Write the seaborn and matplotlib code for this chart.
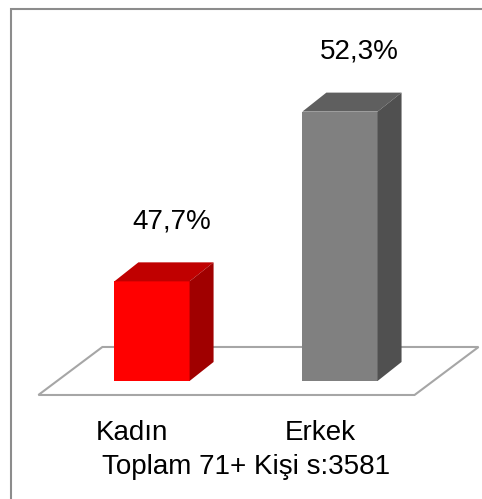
import numpy as np
import matplotlib
matplotlib.use("Agg")
import matplotlib.pyplot as plt
import seaborn as sns
from matplotlib.patches import Polygon, Rectangle
from matplotlib.transforms import ScaledTranslation

categories = ["Kadın", "Erkek"]
values = [47.7, 52.3]
value_labels = ["47,7%", "52,3%"]
front_colors = ["#FF0000", "#808080"]
top_colors = ["#C00000", "#5F5F5F"]
side_colors = ["#A00000", "#505050"]
xlabel = "Toplam 71+ Kişi s:3581"
baseline = 45

sns.set_style("white")
plt.rcParams['font.family'] = ['Liberation Sans', 'DejaVu Sans']
plt.rcParams['text.color'] = 'black'
plt.rcParams['xtick.color'] = 'black'
plt.rcParams['axes.labelcolor'] = 'black'

fig = plt.figure(figsize=(4.82, 4.99), dpi=100)
ax = fig.add_axes([0.0813, 0.2365, 0.858, 0.7395])
sns.barplot(x=categories, y=values, hue=categories, palette=front_colors,
            width=0.4, saturation=1, legend=False, ax=ax, zorder=3, linewidth=0)
ax.set_xlim(-0.6, 1.6)
ax.set_ylim(baseline, 55)
sns.despine(ax=ax, left=True, bottom=True)
ax.set_yticks([])
ax.set_ylabel("")
ax.tick_params(axis="x", length=0, pad=28, labelsize=20, labelcolor="black")
ax.set_xlabel(xlabel, fontsize=20, labelpad=6, color="black")

# shift category labels a bit to the left (perspective)
shift = ScaledTranslation(-0.20, 0, fig.dpi_scale_trans)
for lab in ax.get_xticklabels():
    lab.set_transform(lab.get_transform() + shift)

td = ax.transData
inv = td.inverted()
dx, dy = 24, 19  # depth of the bars, pixels

def to_data(pts):
    return inv.transform(np.array(pts))

bars = list(ax.patches)
for i, bar in enumerate(bars):
    x0 = bar.get_x()
    x1 = x0 + bar.get_width()
    top = bar.get_height()
    (px0, py0), (px1, py1) = td.transform([(x0, baseline), (x1, top)])
    top_face = to_data([(px0, py1), (px1, py1), (px1 + dx, py1 + dy), (px0 + dx, py1 + dy)])
    side_face = to_data([(px1, py0), (px1 + dx, py0 + dy), (px1 + dx, py1 + dy), (px1, py1)])
    ax.add_patch(Polygon(top_face, closed=True, facecolor=top_colors[i], edgecolor="none", zorder=3, clip_on=False))
    ax.add_patch(Polygon(side_face, closed=True, facecolor=side_colors[i], edgecolor="none", zorder=3, clip_on=False))
    ax.annotate(value_labels[i], xy=((x0 + x1) / 2, top), xytext=(14, 34),
                textcoords="offset points", ha="center", va="bottom",
                fontsize=20, color="black", annotation_clip=False)

# floor
fx0 = td.transform((bars[0].get_x(), baseline))
fx1 = td.transform((bars[-1].get_x() + bars[-1].get_width(), baseline))
fl, fr, fy = fx0[0] - 76, fx1[0] + 37, fx0[1] - 14
floor = to_data([(fl, fy), (fr, fy), (fr + 64, fy + 48), (fl + 64, fy + 48)])
ax.add_patch(Polygon(floor, closed=True, facecolor="white", edgecolor="#A6A6A6",
                     lw=1.5, zorder=1, clip_on=False))

# outer border
fig.patches.append(Rectangle((11 / 482, -0.1), 1.2, 1.1 - 9 / 499, transform=fig.transFigure,
                             fill=False, edgecolor="#8C8C8C", lw=1.5, zorder=0))

fig.savefig("out.png", dpi=100)
